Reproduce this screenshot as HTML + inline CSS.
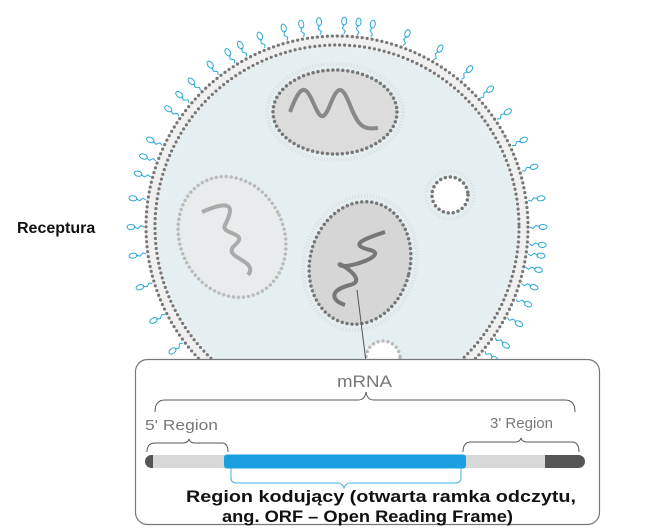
<!DOCTYPE html>
<html><head><meta charset="utf-8"><style>
html,body{margin:0;padding:0;background:#fff;width:651px;height:529px;overflow:hidden}
svg{display:block}
text{font-family:"Liberation Sans",sans-serif}
</style></head><body>
<svg id="s" width="651" height="529" viewBox="0 0 651 529" xmlns="http://www.w3.org/2000/svg">
<g id="rec" stroke="#2aa9d6" fill="none" stroke-width="1"></g>
<circle cx="337" cy="227" r="192" fill="#f0f0f0"/>
<circle cx="337" cy="227" r="191" fill="none" stroke="#777" stroke-width="3.2" stroke-dasharray="0 5" stroke-linecap="round"/>
<circle cx="337" cy="227" r="182" fill="none" stroke="#777" stroke-width="3.2" stroke-dasharray="0 5" stroke-linecap="round"/>
<circle cx="337" cy="227" r="180" fill="#e5eff2"/>
<ellipse cx="335" cy="112" rx="68" ry="48" fill="none" stroke="#ddd" stroke-width="4" stroke-dasharray="1 2"/>
<ellipse cx="335" cy="112" rx="62" ry="42" fill="#dcdcdc" stroke="#777" stroke-width="3.5" stroke-dasharray="0 5" stroke-linecap="round"/>
<path d="M290 112 C300 85,305 85,312 100 S322 125,330 105 S342 85,350 105 S362 130,378 128" fill="none" stroke="#888" stroke-width="4"/>
<g transform="rotate(-25 232 237)">
<ellipse cx="232" cy="237" rx="52" ry="62" fill="#e8eced" stroke="#bbb" stroke-width="3.5" stroke-dasharray="0 5" stroke-linecap="round"/>
</g>
<path d="M202 212 C240 195,230 215,225 225 S250 232,235 245 S260 260,248 275" fill="none" stroke="#aaa" stroke-width="4"/>
<g transform="rotate(15 360 263)">
<ellipse cx="360" cy="263" rx="56" ry="68" fill="none" stroke="#ddd" stroke-width="4" stroke-dasharray="1 2"/>
<ellipse cx="360" cy="263" rx="50" ry="62" fill="#d6d6d6" stroke="#777" stroke-width="3.5" stroke-dasharray="0 5" stroke-linecap="round"/>
</g>
<path d="M385 232 C360 240,350 245,370 250 S345 270,340 265 S370 280,350 285 S330 300,345 305" fill="none" stroke="#777" stroke-width="4"/>
<circle cx="450" cy="195" r="24" fill="none" stroke="#ddd" stroke-width="3" stroke-dasharray="1 2"/>
<circle cx="450" cy="195" r="18" fill="#fff" stroke="#777" stroke-width="3.5" stroke-dasharray="0 5" stroke-linecap="round"/>
<circle cx="383" cy="358" r="17" fill="#fff" stroke="#bbb" stroke-width="3.5" stroke-dasharray="0 5" stroke-linecap="round"/>
<line x1="357" y1="290" x2="366" y2="362" stroke="#555" stroke-width="1"/>
<rect x="135.5" y="359.5" width="464" height="165" rx="12" fill="#fff" stroke="#777" stroke-width="1.2"/>
<text x="337" y="387" font-size="17" fill="#777" textLength="55" lengthAdjust="spacingAndGlyphs">mRNA</text>
<path d="M155 412 Q155 400 165 400 L358 400 Q365 400 366 392 Q367 400 374 400 L565 400 Q575 400 575 412" fill="none" stroke="#555" stroke-width="1"/>
<text x="145" y="430" font-size="15" fill="#777" textLength="73" lengthAdjust="spacingAndGlyphs">5' Region</text>
<text x="490" y="428" font-size="15" fill="#777" textLength="63" lengthAdjust="spacingAndGlyphs">3' Region</text>
<path d="M147 452 Q147 443 155 443 L183 443 Q188 443 189 439 Q190 443 195 443 L222 443 Q228 443 228 452" fill="none" stroke="#555" stroke-width="1"/>
<path d="M463 452 Q463 442 471 442 L515 442 Q520 442 521 438 Q522 442 527 442 L572 442 Q579 442 579 452" fill="none" stroke="#555" stroke-width="1"/>
<rect x="145" y="455" width="440" height="13" rx="6.5" fill="#555"/>
<rect x="153" y="455" width="392" height="13" fill="#d8d8d8"/>
<rect x="224" y="454.5" width="242" height="14" rx="3" fill="#1a9fe0"/>
<path d="M231 468 L231 478 Q231 483 237 483 L338 483 Q342 483 344 488 Q346 483 350 483 L455 483 Q461 483 461 478 L461 468" fill="none" stroke="#3ab0e0" stroke-width="1"/>
<text x="186" y="502" font-size="17" font-weight="bold" fill="#111" textLength="390" lengthAdjust="spacingAndGlyphs">Region kodujący (otwarta ramka odczytu,</text>
<text x="222" y="522" font-size="17" font-weight="bold" fill="#111" textLength="291" lengthAdjust="spacingAndGlyphs">ang. ORF – Open Reading Frame)</text>
<text x="17" y="233" font-size="16" font-weight="bold" fill="#111">Receptura</text>
</svg>
<script>
var g=document.getElementById('rec'),ns='http://www.w3.org/2000/svg',cx=337,cy=227;
var angs=[-95,-88,-84,-80,-70,-60,-50,-42,-34,-25,-17,-8,0,8,12,17,28,40,52,-105,-112,-118,-128,-135,-145,-155,-165,-172,180,172,163,153,143,133,120,-100,-122,-140,-160,5,22,35,46,58];
angs.forEach(function(a){var r=a*Math.PI/180,c=Math.cos(r),s=Math.sin(r);
var x1=cx+c*193,y1=cy+s*193,x2=cx+c*203,y2=cy+s*203,x3=cx+c*206,y3=cy+s*206;
var p=document.createElementNS(ns,'path');var nx=-s*1.5,ny=c*1.5;
p.setAttribute('d','M'+x1+' '+y1+' L'+(cx+c*196+nx)+' '+(cy+s*196+ny)+' L'+(cx+c*199-nx)+' '+(cy+s*199-ny)+' L'+x2+' '+y2);g.appendChild(p);
var e=document.createElementNS(ns,'ellipse');e.setAttribute('cx',x3);e.setAttribute('cy',y3);e.setAttribute('rx',4);e.setAttribute('ry',2.5);e.setAttribute('transform','rotate('+a+' '+x3+' '+y3+')');g.appendChild(e);});
</script>
</body></html>
